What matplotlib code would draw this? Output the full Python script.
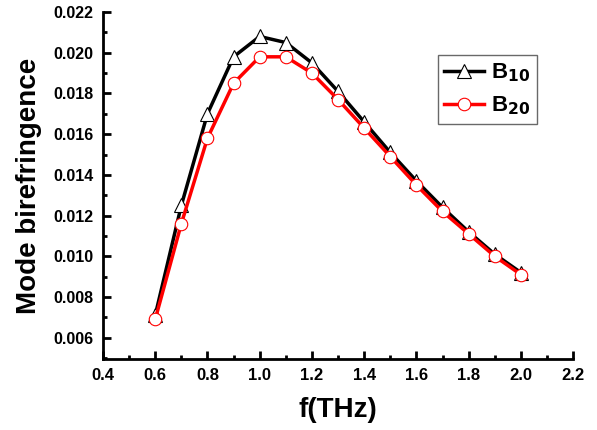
import matplotlib
matplotlib.use('Agg')
import matplotlib.pyplot as plt
from matplotlib.ticker import MultipleLocator, FormatStrFormatter

# -------------------- DATA --------------------
freq = [0.6, 0.7, 0.8, 0.9, 1.0, 1.1, 1.2, 1.3, 1.4, 1.5, 1.6, 1.7, 1.8, 1.9, 2.0]
b10 = [0.0071, 0.0125, 0.0170, 0.0198, 0.0208, 0.0205, 0.0195, 0.0181,
       0.0166, 0.0151, 0.0137, 0.0124, 0.0112, 0.0101, 0.0092]
b20 = [0.0069, 0.0116, 0.0158, 0.0185, 0.0198, 0.0198, 0.0190, 0.0177,
       0.0163, 0.0149, 0.0135, 0.0122, 0.0111, 0.0100, 0.0091]

plt.rcParams['font.family'] = ['Liberation Sans', 'DejaVu Sans']
plt.rcParams['font.weight'] = 'bold'
plt.rcParams['mathtext.default'] = 'bf'

# -------------------- PLOT --------------------
fig = plt.figure(figsize=(5.97, 4.30), dpi=100)
ax = fig.add_axes([0.1725, 0.165, 0.7875, 0.807])

ax.plot(freq, b10, color='black', lw=2.5, marker='^', ms=10,
        mfc='white', mec='black', mew=0.8, label=r'B$_{10}$')
ax.plot(freq, b20, color='red', lw=2.5, marker='o', ms=9,
        mfc='white', mec='red', mew=0.8, label=r'B$_{20}$')

ax.set_xlim(0.4, 2.2)
ax.set_ylim(0.00495, 0.022)
ax.xaxis.set_major_locator(MultipleLocator(0.2))
ax.xaxis.set_minor_locator(MultipleLocator(0.1))
ax.yaxis.set_major_locator(MultipleLocator(0.002))
ax.yaxis.set_minor_locator(MultipleLocator(0.001))
ax.xaxis.set_major_formatter(FormatStrFormatter('%.1f'))
ax.yaxis.set_major_formatter(FormatStrFormatter('%.3f'))

for side in ['top', 'right']:
    ax.spines[side].set_visible(False)
for side in ['left', 'bottom']:
    ax.spines[side].set_linewidth(2)

# ticks point inward, like Origin's default
ax.tick_params(which='major', direction='in', length=6, width=2)
ax.tick_params(which='minor', direction='in', length=3, width=2)
ax.tick_params(axis='x', which='major', labelsize=12, pad=6.5)
ax.tick_params(axis='y', which='major', labelsize=11.5, pad=7)
for lbl in ax.get_xticklabels() + ax.get_yticklabels():
    lbl.set_fontweight('bold')

ax.set_xlabel('f(THz)', fontsize=20, fontweight='bold', labelpad=10)
ax.set_ylabel('Mode birefringence', fontsize=20, fontweight='bold', labelpad=8)

leg = ax.legend(loc='upper right', bbox_to_anchor=(0.923, 0.876), fontsize=16,
                frameon=True, fancybox=False, edgecolor='#444444',
                handlelength=1.8, handletextpad=0.3, borderpad=0.3,
                borderaxespad=0, labelspacing=0.45)
leg.get_frame().set_linewidth(1)

fig.savefig('out.png', dpi=100)
